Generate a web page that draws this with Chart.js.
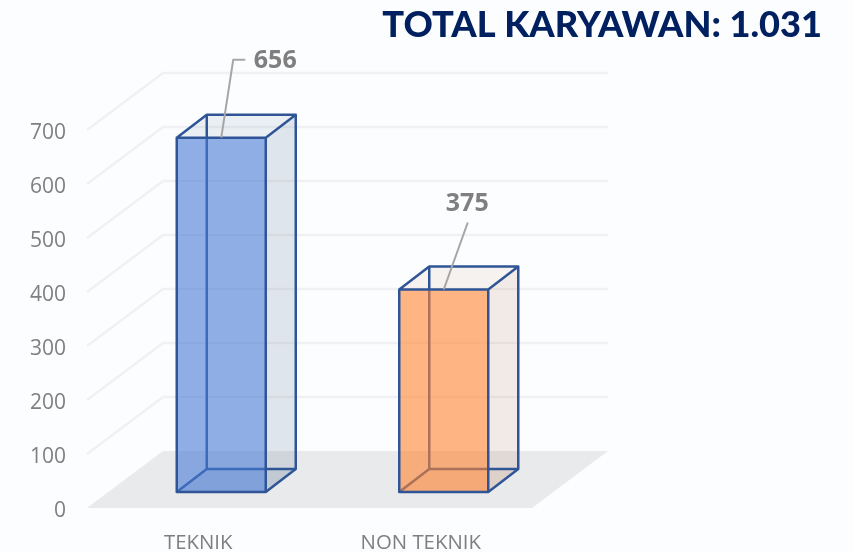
<!DOCTYPE html>
<html>
<head>
<meta charset="utf-8">
<style>
html,body{margin:0;padding:0;background:#fcfdff;}
canvas{display:block;}
</style>
<script src="https://cdn.jsdelivr.net/npm/chart.js@4"></script>
</head>
<body>
<canvas id="c" width="853" height="552"></canvas>
<script>
const chartTitle = 'TOTAL KARYAWAN: 1.031';
const categories = ['TEKNIK', 'NON TEKNIK'];
const employees = [656, 375];
const yTicks = [0, 100, 200, 300, 400, 500, 600, 700];

const frontColors = ['rgba(70,122,213,0.6)', 'rgba(255,131,48,0.6)'];
const sideColors = ['rgba(60,95,130,0.15)', 'rgba(180,110,70,0.13)'];
const capColors = ['rgba(60,95,130,0.09)', 'rgba(180,110,70,0.08)'];
const edgeColor = '#2f5597';
const gridColor = '#f0f1f4';
const floorColor = '#e9eaec';
const textColor = '#7f7f7f';

const wallDepth = {x: 76, y: -57};
const barShift = {x: 23, y: -16};
const barDepth = {x: 30, y: -23};
// Leader-line bends and label anchors, relative to the top centre of each bar
const leaders = [
  {pts: [[0, 0], [12, -78], [24, -78]], label: [54, -76.5]},
  {pts: [[0, 0], [24, -67]], label: [23.5, -86]}
];

function poly(ctx, pts, fill) {
  ctx.beginPath();
  pts.forEach((p, i) => i ? ctx.lineTo(p[0], p[1]) : ctx.moveTo(p[0], p[1]));
  ctx.closePath();
  if (fill) { ctx.fillStyle = fill; ctx.fill(); }
}

const scene3d = {
  id: 'scene3d',
  beforeDatasetsDraw(chart) {
    const {ctx, chartArea: a, scales: {y}} = chart;
    const d = wallDepth;
    ctx.save();
    // floor
    const y0 = y.getPixelForValue(0);
    poly(ctx, [[a.left, y0], [a.left + d.x, y0 + d.y], [a.right + d.x, y0 + d.y], [a.right, y0]], floorColor);
    // side wall diagonals and back wall gridlines
    ctx.strokeStyle = gridColor;
    ctx.lineWidth = 2.5;
    yTicks.forEach(v => {
      if (v === 0) return;
      const py = y.getPixelForValue(v);
      ctx.beginPath();
      ctx.moveTo(a.left, py);
      ctx.lineTo(a.left + d.x, py + d.y);
      ctx.lineTo(a.right + d.x, py + d.y);
      ctx.stroke();
    });
    // back, side, cap and floor of each box
    const meta = chart.getDatasetMeta(0);
    ctx.translate(barShift.x, barShift.y);
    meta.data.forEach((b, i) => {
      const L = b.x - b.width / 2, R = b.x + b.width / 2, T = b.y, B = b.base;
      const dx = barDepth.x, dy = barDepth.y;
      poly(ctx, [[R, T], [R + dx, T + dy], [R + dx, B + dy], [R, B]], sideColors[i]);
      poly(ctx, [[L, T], [L + dx, T + dy], [R + dx, T + dy], [R, T]], capColors[i]);
      poly(ctx, [[L, B], [L + dx, B + dy], [R + dx, B + dy], [R, B]], capColors[i]);
      ctx.strokeStyle = edgeColor;
      ctx.lineWidth = 2.5;
      ctx.beginPath();
      ctx.moveTo(L + dx, B + dy); ctx.lineTo(L + dx, T + dy);
      ctx.moveTo(L + dx, B + dy); ctx.lineTo(R + dx, B + dy);
      ctx.moveTo(L + dx, B + dy); ctx.lineTo(L, B);
      ctx.stroke();
    });
    // bars themselves are drawn by the library inside this translation
    ctx.restore();
    ctx.save();
    ctx.translate(barShift.x, barShift.y);
  },
  afterDatasetsDraw(chart) {
    const {ctx} = chart;
    const meta = chart.getDatasetMeta(0);
    meta.data.forEach((b, i) => {
      const L = b.x - b.width / 2, R = b.x + b.width / 2, T = b.y, B = b.base;
      const dx = barDepth.x, dy = barDepth.y;
      ctx.strokeStyle = edgeColor;
      ctx.lineWidth = 2.5;
      ctx.lineJoin = 'round';
      ctx.beginPath();
      ctx.rect(L, T, R - L, B - T);
      ctx.moveTo(L, T); ctx.lineTo(L + dx, T + dy); ctx.lineTo(R + dx, T + dy); ctx.lineTo(R, T);
      ctx.moveTo(R + dx, T + dy); ctx.lineTo(R + dx, B + dy); ctx.lineTo(R, B);
      ctx.stroke();
      // leader line and value label
      const cx = b.x, cy = T, l = leaders[i];
      ctx.strokeStyle = '#a6a6a6';
      ctx.lineWidth = 2;
      ctx.beginPath();
      l.pts.forEach((p, k) => k ? ctx.lineTo(cx + p[0], cy + p[1]) : ctx.moveTo(cx + p[0], cy + p[1]));
      ctx.stroke();
      ctx.fillStyle = textColor;
      ctx.font = 'bold 25px "Open Sans"';
      ctx.textAlign = 'center';
      ctx.textBaseline = 'middle';
      ctx.fillText(String(employees[i]), cx + l.label[0], cy + l.label[1]);
    });
    ctx.restore();
  }
};

// Nudges the y tick text down so its glyphs centre on the tick position
function nudgeLabels(s) {
  if (s._nudged) return;
  s._nudged = true;
  const orig = s._computeLabelItems;
  s._computeLabelItems = function (area) {
    const items = orig.call(this, area);
    items.forEach(it => { it.options.translation[1] += 3.5; });
    return items;
  };
}

new Chart(document.getElementById('c'), {
  type: 'bar',
  data: {
    labels: categories,
    datasets: [{
      data: employees,
      backgroundColor: frontColors,
      borderWidth: 0,
      barPercentage: 0.4,
      categoryPercentage: 1
    }]
  },
  options: {
    responsive: false,
    animation: false,
    layout: {padding: {top: 0, right: 31, bottom: 0, left: 0}},
    plugins: {
      legend: {display: false},
      tooltip: {enabled: false},
      title: {
        display: true,
        text: chartTitle,
        align: 'end',
        color: '#002060',
        font: {family: 'Lato', size: 36.2, weight: '900', lineHeight: 1.2},
        padding: {top: 3.5, bottom: 83}
      }
    },
    scales: {
      x: {
        grid: {display: false},
        border: {display: false},
        afterFit(s) { s.height = 44; },
        ticks: {color: textColor, padding: 15, font: {family: 'Open Sans', size: 20.4}, maxRotation: 0}
      },
      y: {
        min: 0,
        max: 700,
        afterFit(s) { s.width = 87; nudgeLabels(s); },
        afterBuildTicks(s) { s.ticks = yTicks.map(v => ({value: v})); },
        grid: {display: false},
        border: {display: false},
        ticks: {color: textColor, padding: 13, font: {family: 'Open Sans', size: 21}}
      },
      rightGutter: {
        type: 'linear',
        position: 'right',
        display: true,
        afterFit(s) { s.width = 290; },
        grid: {display: false},
        border: {display: false},
        ticks: {display: false}
      }
    }
  },
  plugins: [scene3d]
});
</script>
</body>
</html>
